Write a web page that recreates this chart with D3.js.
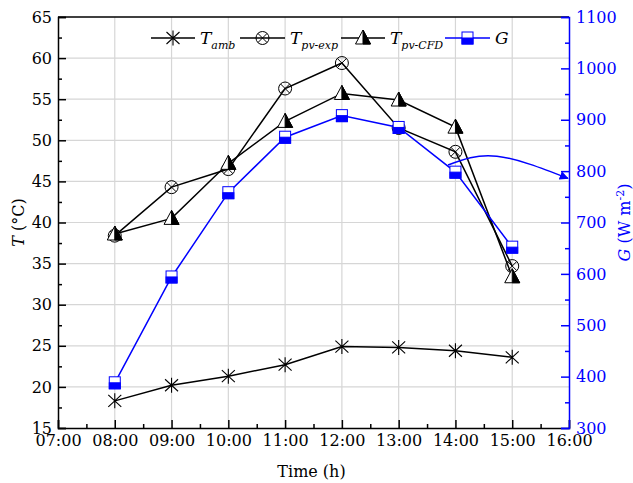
<!DOCTYPE html>
<html>
<head>
<meta charset="utf-8">
<script src="https://cdn.jsdelivr.net/npm/d3@7"></script>
<style>
  body { margin: 0; background: #fff; }
  text { font-family: "DejaVu Serif", serif; }
</style>
</head>
<body>
<div id="chart"></div>
<script>
// Data
var hours = [8, 9, 10, 11, 12, 13, 14, 15];
var tickHours = ["07:00","08:00","09:00","10:00","11:00","12:00","13:00","14:00","15:00","16:00"];
var tAmb    = [18.3, 20.2, 21.3, 22.7, 24.9, 24.8, 24.4, 23.6];
var tPvExp  = [38.4, 44.3, 46.5, 56.3, 59.4, 51.5, 48.6, 34.7];
var tPvCFD  = [38.6, 40.5, 47.2, 52.3, 55.7, 54.9, 51.6, 33.4];
var gIrr    = [388, 594, 758, 866, 908, 885, 798, 652];
// curved arrow pointing to the right axis (hour, W m-2)
var arrowPts = [[13.87, 812], [14.73, 829], [15.98, 786]];

var margin = {top: 17, right: 64, bottom: 55, left: 58};
var width = 633 - margin.left - margin.right,
    height = 483 - margin.top - margin.bottom;
var blue = "#0000ff";

var svg = d3.select("#chart").append("svg")
    .attr("width", 633)
    .attr("height", 483)
  .append("g")
    .attr("transform", "translate(" + margin.left + "," + margin.top + ")");

var x = d3.scaleLinear().domain([7, 16]).range([0, width]);
var yL = d3.scaleLinear().domain([15, 65]).range([height, 0]);
var yR = d3.scaleLinear().domain([300, 1100]).range([height, 0]);

// grid
svg.append("g").selectAll("line")
    .data(d3.range(8, 16))
    .enter().append("line")
    .attr("x1", function(d) { return x(d); })
    .attr("x2", function(d) { return x(d); })
    .attr("y1", 0).attr("y2", height)
    .attr("stroke", "#d6d6d6").attr("stroke-width", 1.2);
svg.append("g").selectAll("line")
    .data(d3.range(20, 65, 5))
    .enter().append("line")
    .attr("y1", function(d) { return yL(d); })
    .attr("y2", function(d) { return yL(d); })
    .attr("x1", 0).attr("x2", width)
    .attr("stroke", "#d6d6d6").attr("stroke-width", 1.2);

// top frame
svg.append("line").attr("x1", 0).attr("x2", width).attr("y1", 0).attr("y2", 0)
    .attr("stroke", "#000").attr("stroke-width", 1.5);

function styleAxis(g, color) {
    g.select(".domain").attr("stroke", color).attr("stroke-width", 1.5);
    g.selectAll(".tick line").attr("stroke", color).attr("stroke-width", 1.5);
    g.selectAll("text").attr("fill", color).style("font-size", "16px")
        .style("font-family", "DejaVu Serif");
}

// x axis
var xAxis = svg.append("g").attr("transform", "translate(0," + height + ")")
    .call(d3.axisBottom(x).tickValues(d3.range(7, 17)).tickSize(-8).tickPadding(7)
        .tickFormat(function(d, i) { return tickHours[i]; }));
styleAxis(xAxis, "#000");
var xMinor = svg.append("g").attr("transform", "translate(0," + height + ")")
    .call(d3.axisBottom(x).tickValues(d3.range(7.5, 16, 1)).tickSize(-4).tickFormat(""));
styleAxis(xMinor, "#000");
xMinor.select(".domain").remove();

// left axis
var yAxisL = svg.append("g")
    .call(d3.axisLeft(yL).tickValues(d3.range(15, 66, 5)).tickSize(-8).tickPadding(6));
styleAxis(yAxisL, "#000");
var yMinorL = svg.append("g")
    .call(d3.axisLeft(yL).tickValues(d3.range(17.5, 65, 5)).tickSize(-4).tickFormat(""));
styleAxis(yMinorL, "#000");
yMinorL.select(".domain").remove();

// right axis
var yAxisR = svg.append("g").attr("transform", "translate(" + width + ",0)")
    .call(d3.axisRight(yR).tickValues(d3.range(300, 1101, 100)).tickSize(-8).tickPadding(7)
        .tickFormat(d3.format("d")));
styleAxis(yAxisR, blue);
var yMinorR = svg.append("g").attr("transform", "translate(" + width + ",0)")
    .call(d3.axisRight(yR).tickValues(d3.range(350, 1100, 100)).tickSize(-4).tickFormat(""));
styleAxis(yMinorR, blue);
yMinorR.select(".domain").remove();

// axis titles
svg.append("text")
    .attr("transform", "translate(" + (-34) + "," + (height / 2) + ") rotate(-90)")
    .attr("text-anchor", "middle")
    .style("font-size", "16px")
    .html('<tspan font-style="italic">T</tspan> (°C)');
svg.append("text")
    .attr("transform", "translate(" + (width + 61) + "," + (height / 2) + ") rotate(-90)")
    .attr("text-anchor", "middle")
    .attr("fill", blue)
    .style("font-size", "16px")
    .html('<tspan font-style="italic">G</tspan> (W m<tspan dy="-6" font-size="11px">-2</tspan><tspan dy="6">)</tspan>');
svg.append("text")
    .attr("x", width / 2 - 2)
    .attr("y", height + 49)
    .attr("text-anchor", "middle")
    .style("font-size", "16px")
    .text("Time (h)");

// markers
function drawStar(g) {
    g.append("path")
        .attr("d", "M0,-7.5L0,7.5M-6.5,-6L6.5,6M-6.5,6L6.5,-6")
        .attr("stroke", "#000").attr("stroke-width", 1.1).attr("fill", "none");
}
function drawCircleX(g) {
    g.append("circle").attr("r", 6.5).attr("fill", "none")
        .attr("stroke", "#000").attr("stroke-width", 1);
    g.append("path").attr("d", "M-4.6,-4.6L4.6,4.6M-4.6,4.6L4.6,-4.6")
        .attr("stroke", "#000").attr("stroke-width", 1);
}
function drawTriangle(g) {
    g.append("path").attr("d", "M0,-8L-7.5,6L7.5,6Z")
        .attr("fill", "#fff").attr("stroke", "#000").attr("stroke-width", 1);
    g.append("path").attr("d", "M0,-8L7.5,6L0,6Z")
        .attr("fill", "#000").attr("stroke", "#000").attr("stroke-width", 1);
}
function drawSquare(g) {
    g.append("rect").attr("x", -5.5).attr("y", -6).attr("width", 11).attr("height", 12)
        .attr("fill", "#fff").attr("stroke", blue).attr("stroke-width", 1);
    g.append("rect").attr("x", -5.5).attr("y", 0).attr("width", 11).attr("height", 6)
        .attr("fill", blue).attr("stroke", blue).attr("stroke-width", 1);
}

var series = [
    {name: "amb", values: tAmb, scale: yL, color: "#000", marker: drawStar},
    {name: "pv-exp", values: tPvExp, scale: yL, color: "#000", marker: drawCircleX},
    {name: "pv-CFD", values: tPvCFD, scale: yL, color: "#000", marker: drawTriangle},
    {name: "G", values: gIrr, scale: yR, color: blue, marker: drawSquare}
];

series.forEach(function(s) {
    var line = d3.line()
        .x(function(d, i) { return x(hours[i]); })
        .y(function(d) { return s.scale(d); });
    svg.append("path")
        .datum(s.values)
        .attr("d", line)
        .attr("fill", "none")
        .attr("stroke", s.color)
        .attr("stroke-width", 1.5);
    svg.selectAll(".m-" + s.name)
        .data(s.values)
        .enter().append("g")
        .attr("class", "m-" + s.name)
        .attr("transform", function(d, i) {
            return "translate(" + x(hours[i]) + "," + s.scale(d) + ")";
        })
        .each(function() { s.marker(d3.select(this)); });
});

// curved arrow
svg.append("defs").append("marker")
    .attr("id", "arrowhead")
    .attr("viewBox", "0 0 10 10")
    .attr("refX", 9).attr("refY", 5)
    .attr("markerWidth", 9).attr("markerHeight", 9)
    .attr("markerUnits", "userSpaceOnUse")
    .attr("orient", "auto")
  .append("path")
    .attr("d", "M0,0L10,5L0,10Z")
    .attr("fill", blue);
svg.append("path")
    .datum(arrowPts)
    .attr("d", d3.line()
        .x(function(d) { return x(d[0]); })
        .y(function(d) { return yR(d[1]); })
        .curve(d3.curveNatural))
    .attr("fill", "none")
    .attr("stroke", blue)
    .attr("stroke-width", 1.5)
    .attr("marker-end", "url(#arrowhead)");

// legend
var legendItems = [
    {x1: 151 - margin.left, x2: 195 - margin.left, sub: "amb", marker: drawStar, color: "#000", main: "T"},
    {x1: 240 - margin.left, x2: 285 - margin.left, sub: "pv-exp", marker: drawCircleX, color: "#000", main: "T"},
    {x1: 341 - margin.left, x2: 385 - margin.left, sub: "pv-CFD", marker: drawTriangle, color: "#000", main: "T"},
    {x1: 445 - margin.left, x2: 490 - margin.left, sub: "", marker: drawSquare, color: blue, main: "G"}
];
var ly = 38 - margin.top;
legendItems.forEach(function(d) {
    var g = svg.append("g");
    g.append("line")
        .attr("x1", d.x1).attr("x2", d.x2)
        .attr("y1", ly).attr("y2", ly)
        .attr("stroke", d.color).attr("stroke-width", 1.5);
    var mg = g.append("g").attr("transform", "translate(" + ((d.x1 + d.x2) / 2) + "," + ly + ")");
    d.marker(mg);
    var t = g.append("text")
        .attr("x", d.x2 + 5)
        .attr("y", ly + 6)
        .style("font-size", "17px")
        .style("font-style", "italic");
    t.append("tspan").text(d.main);
    if (d.sub) {
        t.append("tspan").attr("dy", 5).style("font-size", "11px").text(d.sub);
    }
});
</script>
</body>
</html>
